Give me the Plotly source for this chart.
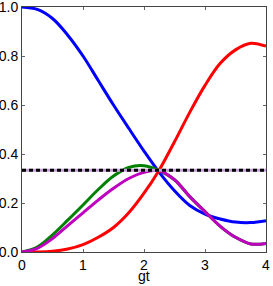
import plotly.graph_objects as go

t = [0, 0.25, 0.5, 0.75, 1.0, 1.25, 1.5, 1.75, 2.0, 2.25, 2.5, 2.75, 3.0, 3.25, 3.5, 3.75, 4.0]
blue = [1.0, 0.99, 0.953, 0.885, 0.80, 0.70, 0.60, 0.505, 0.412, 0.325, 0.25, 0.19, 0.155, 0.135, 0.122, 0.12, 0.128]
red = [0.0, 0.0, 0.003, 0.012, 0.03, 0.06, 0.10, 0.16, 0.24, 0.335, 0.45, 0.57, 0.68, 0.77, 0.825, 0.852, 0.84]
magenta = [0.0, 0.015, 0.055, 0.108, 0.16, 0.212, 0.26, 0.30, 0.325, 0.332, 0.295, 0.226, 0.165, 0.105, 0.06, 0.033, 0.035]
green = [0.0, 0.02, 0.07, 0.13, 0.192, 0.255, 0.31, 0.345, 0.352, 0.332, 0.295, 0.226, 0.165, 0.105, 0.06, 0.033, 0.035]
ref_level = 1 / 3

FONT = "Liberation Sans, Arial"

fig = go.Figure()
for y, c in [(blue, "#0000ff"), (red, "#ff0000"), (green, "#008000"), (magenta, "#bf00bf")]:
    fig.add_trace(go.Scatter(x=t, y=y, mode="lines", line=dict(color=c, width=3, shape="spline", smoothing=1.0),
                             showlegend=False))
fig.add_trace(go.Scatter(x=[0, 4], y=[ref_level, ref_level], mode="lines",
                         line=dict(color="#c8a0dc", width=3), showlegend=False))
fig.add_trace(go.Scatter(x=[0, 4], y=[ref_level, ref_level], mode="lines",
                         line=dict(color="#000000", width=3, dash="4px,3px"), showlegend=False))

axis_common = dict(showgrid=False, zeroline=False, ticks="inside", ticklen=3, tickcolor="#666",
                   showline=True, linecolor="#444", linewidth=1, mirror="ticks", automargin=False,
                   ticklabeloverflow="allow",
                   tickfont=dict(family=FONT, size=14, color="black"))
fig.update_xaxes(range=[0, 4], tickvals=[0, 1, 2, 3, 4], ticktext=["0", "1", "2", "3", "4"],
                 ticklabelstandoff=0, **axis_common)
fig.update_yaxes(range=[0, 1], tickvals=[0, 0.2, 0.4, 0.6, 0.8, 1.0],
                 ticktext=["0.0", "0.2", "0.4", "0.6", "0.8", "1.0"], ticklabelstandoff=0, **axis_common)
fig.add_annotation(text="gt", xref="paper", yref="paper", x=0.5, y=-34 / 245, yanchor="bottom",
                   showarrow=False, font=dict(family=FONT, size=14, color="black"),
                   borderpad=0, yshift=1)
fig.update_layout(width=273, height=286, margin=dict(l=22, r=7, t=7, b=34),
                  plot_bgcolor="white", paper_bgcolor="white")
fig.write_html("out.html", config={"displayModeBar": False},
               post_script="document.body.style.margin='0';document.body.style.overflow='hidden';")
